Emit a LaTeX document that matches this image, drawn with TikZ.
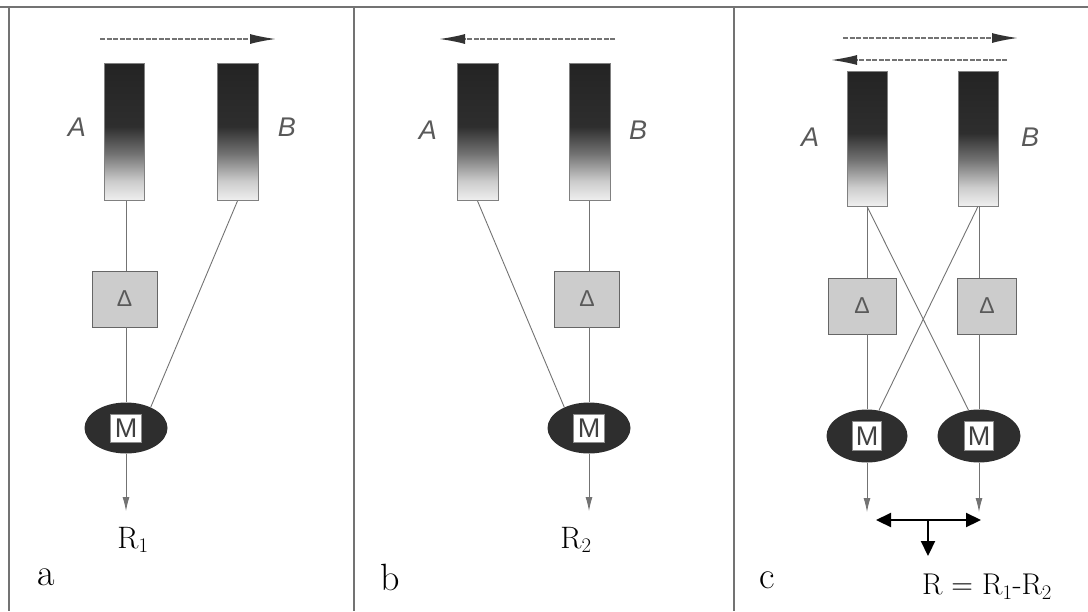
\documentclass[tikz,border=0pt]{standalone}
\usepackage{fontspec}
\newfontfamily\lblfont{Liberation Sans}
\usetikzlibrary{arrows.meta,shapes.geometric}

% dark top fading to a pale bottom (key points between 25bp and 75bp)
\pgfdeclareverticalshading{barshade}{100bp}{%
  color(0bp)=(black!6); color(25bp)=(black!6); color(32bp)=(black!20);
  color(42bp)=(black!55); color(52bp)=(black!82); color(75bp)=(black!86);
  color(100bp)=(black!86)}

\tikzset{
  frame/.style={draw=black!55, line width=2pt},
  bar/.style={draw=black!50, line width=0.8pt, shading=barshade,
    minimum width=40pt, minimum height=137pt, inner sep=0pt},
  dbox/.style={draw=black!60, fill=black!20, line width=0.8pt,
    minimum width=65pt, minimum height=56pt, inner sep=0pt,
    font=\lblfont\fontsize{23}{23}\selectfont, text=black!65},
  mell/.style={ellipse, fill=black!82, minimum width=83pt,
    minimum height=51pt, inner sep=0pt},
  mbox/.style={draw=black!45, fill=white, line width=1pt,
    minimum width=31pt, minimum height=28pt, inner sep=0pt,
    font=\lblfont\fontsize{27}{27}\selectfont, text=black!75},
  ab/.style={font=\lblfont\itshape\fontsize{27}{27}\selectfont, text=black!65},
  rlab/.style={font=\fontsize{31}{31}\selectfont},
  panel/.style={font=\fontsize{38}{38}\selectfont},
  link/.style={draw=black!55, line width=0.9pt},
  outarrow/.style={link, -{Latex[length=14pt,width=7pt]}},
  flow/.style={draw=black!55, line width=1.5pt, dash pattern=on 5pt off 1.5pt,
    -{Latex[length=26pt,width=10pt,color=black!80]}},
  diff/.style={draw=black, line width=2.2pt, -{Triangle[length=15pt,width=14pt]}}
}

\begin{document}
\begin{tikzpicture}[x=1pt,y=-1pt]
\useasboundingbox (0,0) rectangle (1088,611);

% panel frame
\draw[frame] (0,7) -- (1088,7);
\draw[frame] (9,7) -- (9,611);
\draw[frame] (354,7) -- (354,611);
\draw[frame] (734,7) -- (734,611);

% ---------------- panel a ----------------
\coordinate (fa1) at (100,39);
\coordinate (fa2) at (276,39);
\draw[flow] (fa1) -- (fa2);
\node[bar] (aA) at (124,132) {};
\node[bar, minimum width=41pt] (aB) at (237.5,132) {};
\node[ab] (aLA) at (77,127) {A};
\node[ab] (aLB) at (287,127) {B};
\node[dbox] (aD) at (124.5,299) {Δ};
\node[mell] (aM) at (126,428) {};
\node[mbox] (aMb) at (aM.center) {M};
\coordinate (aR) at (126,511);
\node[rlab] (aR1) at (133,540) {R$_1$};
\node[panel] (pa) at (46,577) {a};
\draw[link] (aA.south -| aM.north) -- (aD.north -| aM.north);
\draw[link] (aD.south -| aM.north) -- (aM.north);
\draw[link] (aB.south) -- (aM.40);
\draw[outarrow] (aM.south) -- (aR);

% ---------------- panel b ----------------
\coordinate (fb1) at (615,39);
\coordinate (fb2) at (439,39);
\draw[flow] (fb1) -- (fb2);
\node[bar, minimum width=41pt] (bA) at (477.5,132) {};
\node[bar, minimum width=41pt] (bB) at (589.5,132) {};
\node[ab] (bLA) at (428,130) {A};
\node[ab] (bLB) at (638,130) {B};
\node[dbox] (bD) at (587,299) {Δ};
\node[mell] (bM) at (589,428) {};
\node[mbox] (bMb) at (bM.center) {M};
\coordinate (bR) at (589,511);
\node[rlab] (bR2) at (576,540) {R$_2$};
\node[panel] (pb) at (390,577) {b};
\draw[link] (bB.south -| bM.north) -- (bD.north -| bM.north);
\draw[link] (bD.south -| bM.north) -- (bM.north);
\draw[link] (bA.south) -- (bM.140);
\draw[outarrow] (bM.south) -- (bR);

% ---------------- panel c ----------------
\coordinate (fc1) at (843,38);
\coordinate (fc2) at (1018,38);
\coordinate (fc3) at (1007,60);
\coordinate (fc4) at (831,60);
\draw[flow] (fc1) -- (fc2);
\draw[flow] (fc3) -- (fc4);
\node[bar, minimum height=135pt] (cA) at (867,138.5) {};
\node[bar, minimum height=135pt] (cB) at (978,138.5) {};
\node[ab] (cLA) at (810,137) {A};
\node[ab] (cLB) at (1030,137) {B};
\node[dbox, minimum width=68pt] (cD1) at (862,306) {Δ};
\node[dbox, minimum width=59pt] (cD2) at (987,306) {Δ};
\node[mell, minimum width=81pt, minimum height=53pt] (cM1) at (867,436) {};
\node[mell, minimum width=83pt, minimum height=53pt] (cM2) at (979,436) {};
\node[mbox, minimum width=29pt, minimum height=29pt] (cMb1) at (cM1.center) {M};
\node[mbox, minimum width=29pt, minimum height=29pt] (cMb2) at (cM2.center) {M};
\draw[link] (cA.south -| cM1.north) -- (cD1.north -| cM1.north);
\draw[link] (cD1.south -| cM1.north) -- (cM1.north);
\draw[link] (cB.south -| cM2.north) -- (cD2.north -| cM2.north);
\draw[link] (cD2.south -| cM2.north) -- (cM2.north);
\draw[link] (cA.south) -- (cM2.112);
\draw[link] (cB.south) -- (cM1.65);
\coordinate (cR1) at (867,512);
\coordinate (cR2) at (979,512);
\draw[outarrow] (cM1.south) -- (cR1);
\draw[outarrow] (cM2.south) -- (cR2);
\coordinate (dl) at (876,520);
\coordinate (dr) at (981,520);
\coordinate (dm) at (928,520);
\coordinate (dd) at (928,556);
\draw[diff] (dm) -- (dl);
\draw[diff] (dm) -- (dr);
\draw[diff] (dm) -- (dd);
\node[rlab, font=\fontsize{30}{30}\selectfont] (cR) at (987,587) {R = R$_1$-R$_2$};
\node[panel] (pc) at (767,580) {c};
\end{tikzpicture}
\end{document}
